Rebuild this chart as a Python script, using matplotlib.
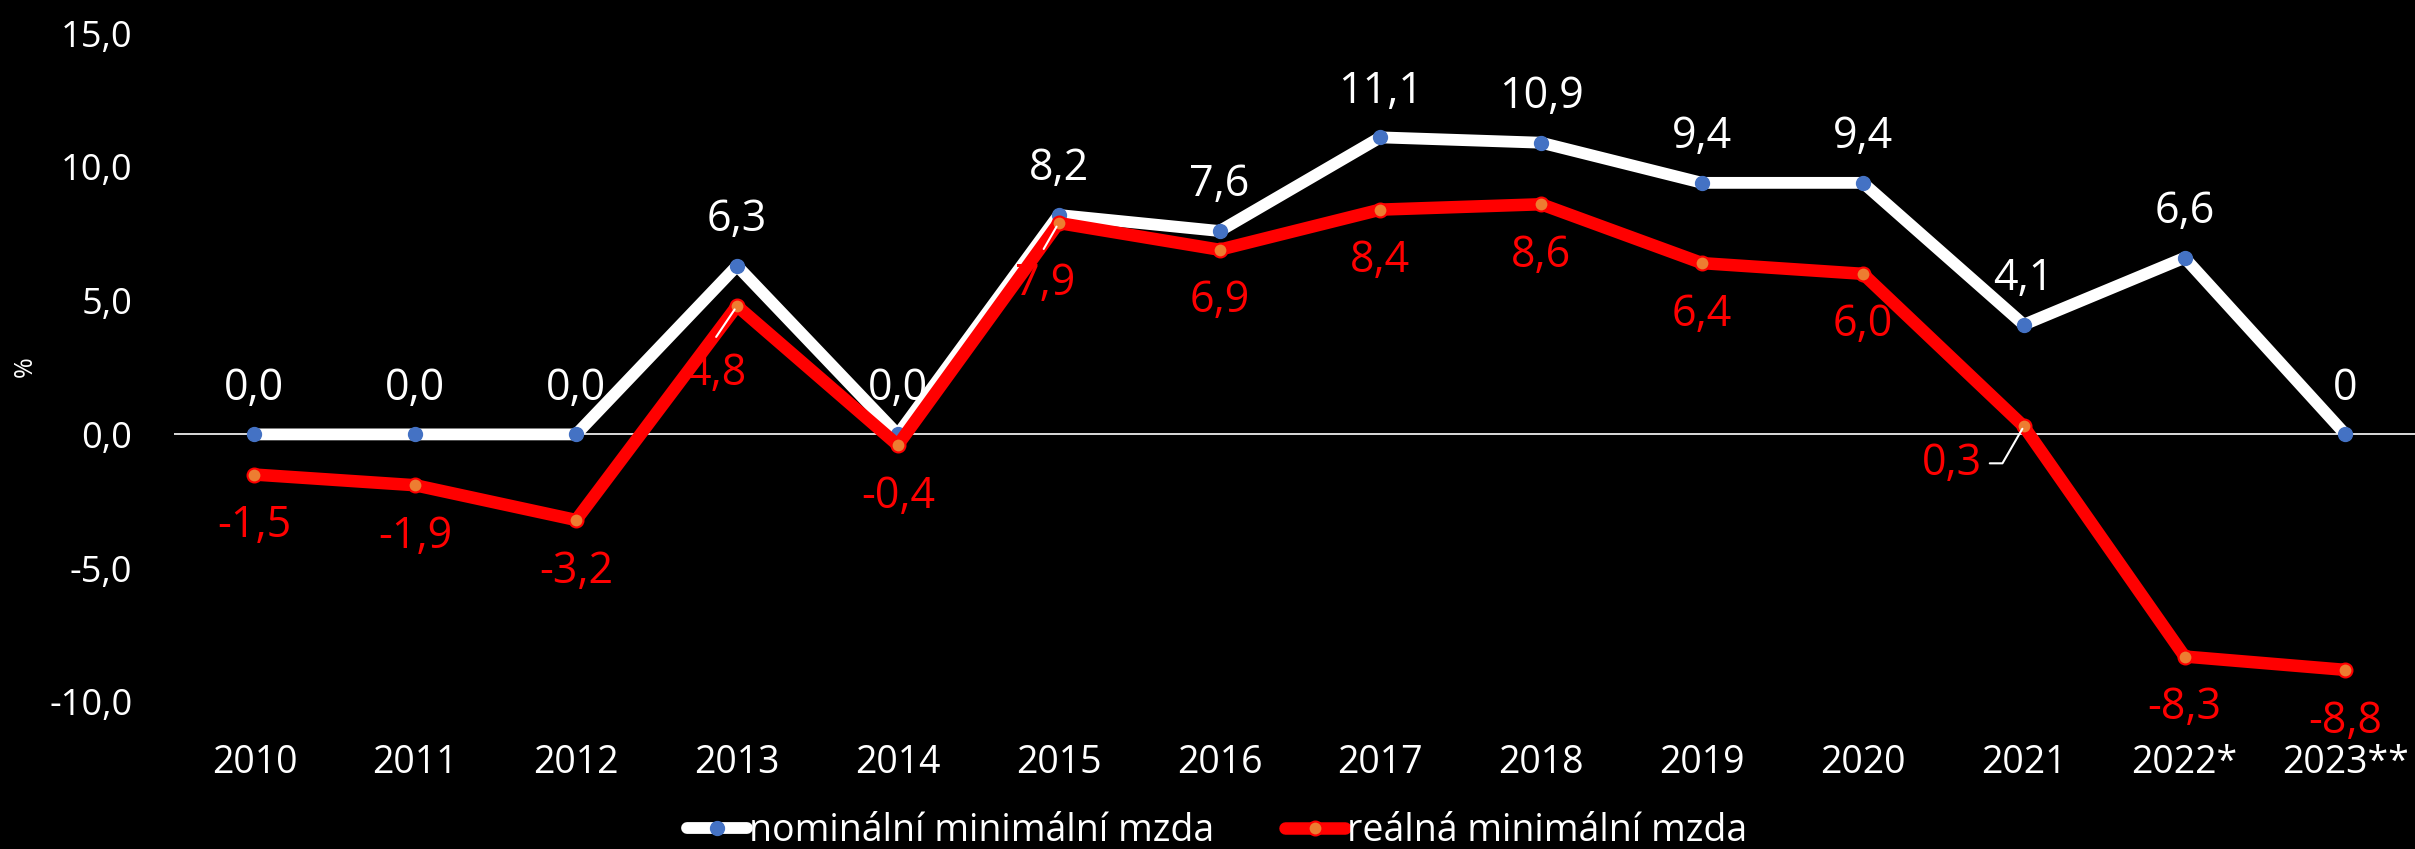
import matplotlib
matplotlib.use('Agg')
import matplotlib.pyplot as plt
from matplotlib.lines import Line2D

years = ['2010', '2011', '2012', '2013', '2014', '2015', '2016', '2017',
         '2018', '2019', '2020', '2021', '2022*', '2023**']
nominal = [0.0, 0.0, 0.0, 6.3, 0.0, 8.2, 7.6, 11.1, 10.9, 9.4, 9.4, 4.1, 6.6, 0.0]
real = [-1.5, -1.9, -3.2, 4.8, -0.4, 7.9, 6.9, 8.4, 8.6, 6.4, 6.0, 0.3, -8.3, -8.8]
nominal_labels = ['0,0', '0,0', '0,0', '6,3', '0,0', '8,2', '7,6', '11,1',
                  '10,9', '9,4', '9,4', '4,1', '6,6', '0']
real_labels = ['-1,5', '-1,9', '-3,2', '4,8', '-0,4', '7,9', '6,9', '8,4',
               '8,6', '6,4', '6,0', '0,3', '-8,3', '-8,8']
y_ticks = [-10, -5, 0, 5, 10, 15]
y_tick_labels = ['-10,0', '-5,0', '0,0', '5,0', '10,0', '15,0']
series_names = ['nominální minimální mzda', 'reálná minimální mzda']

FONT = ['Open Sans', 'DejaVu Sans']
plt.rcParams['font.family'] = FONT

W, H = 2415, 849
fig = plt.figure(figsize=(W / 100, H / 100), dpi=100, facecolor='black')
left_px, top_px, bottom_px = 174, 33, 702
ax = fig.add_axes([left_px / W, 1 - bottom_px / H, (W - left_px) / W, (bottom_px - top_px) / H])
ax.set_facecolor('black')

step_px = 160.85
x = list(range(len(years)))
ax.set_xlim(-0.5, -0.5 + (W - left_px) / step_px)
ax.set_ylim(-10, 15)

for s in ax.spines.values():
    s.set_visible(False)

ax.axhline(0, color='white', lw=1.2, zorder=1)

WHITE = '#FFFFFF'
RED = '#FF0000'
BLUE = '#4472C4'
ORANGE = '#ED7D31'

ax.plot(x, nominal, color=WHITE, lw=8.5, marker='o', ms=10, mfc=BLUE, mec=BLUE,
        zorder=3, solid_joinstyle='round', solid_capstyle='round')
ax.plot(x, real, color=RED, lw=9, marker='o', ms=10, mfc=ORANGE, mec=RED, mew=1.5,
        zorder=4, solid_joinstyle='round', solid_capstyle='round')

LBL = 31
# nominal labels above
for i, (v, t) in enumerate(zip(nominal, nominal_labels)):
    ax.annotate(t, (i, v), xytext=(0, 33), textcoords='offset points',
                ha='center', va='center', color=WHITE, fontsize=LBL, zorder=6)

# real labels below (a few moved, with leader lines)
special = {3: (-15, -49), 5: (-9.4, -44), 11: (-52, -27)}
for i, (v, t) in enumerate(zip(real, real_labels)):
    off = special.get(i, (0, -37))
    ax.annotate(t, (i, v), xytext=off, textcoords='offset points',
                ha='center', va='center', color=RED, fontsize=LBL, zorder=6)

# leader lines
ax.annotate('', (3, real[3]), xytext=(-15, -22.3), textcoords='offset points',
            arrowprops=dict(arrowstyle='-', color=WHITE, lw=1.5, shrinkA=0, shrinkB=3), zorder=7)
ax.annotate('', (5, real[5]), xytext=(-10.8, -18.7), textcoords='offset points',
            arrowprops=dict(arrowstyle='-', color=WHITE, lw=1.5, shrinkA=0, shrinkB=3), zorder=7)
ax.annotate('', (11, real[11]), xytext=(-24.5, -26.6), textcoords='offset points',
            arrowprops=dict(arrowstyle='-', color=WHITE, lw=1.5, shrinkA=0, shrinkB=2,
                            connectionstyle='angle,angleA=0,angleB=60,rad=0'), zorder=7)

ax.set_xticks(x)
ax.set_xticklabels(years)
ax.set_yticks(y_ticks)
ax.set_yticklabels(y_tick_labels)
ax.tick_params(axis='x', length=0, pad=30, labelsize=27, labelcolor=WHITE)
ax.tick_params(axis='y', length=0, pad=30, labelsize=26, labelcolor=WHITE)

fig.text(25 / W, 1 - 367 / H, '%', rotation=90, color=WHITE, fontsize=18,
         ha='center', va='center')

handles = [
    Line2D([], [], color=WHITE, lw=8.5, marker='o', ms=10, mfc=BLUE, mec=BLUE,
           solid_capstyle='round'),
    Line2D([], [], color=RED, lw=9, marker='o', ms=10, mfc=ORANGE, mec=RED, mew=1.5,
           solid_capstyle='round'),
]
leg = fig.legend(handles, series_names, loc='center', bbox_to_anchor=(0.504, 1 - 831 / H),
                 ncol=2, frameon=False, fontsize=27, handlelength=1.6, handletextpad=0.05,
                 columnspacing=1.9, labelcolor=WHITE, borderaxespad=0, borderpad=0)

fig.savefig('out.png', dpi=100, facecolor='black')
